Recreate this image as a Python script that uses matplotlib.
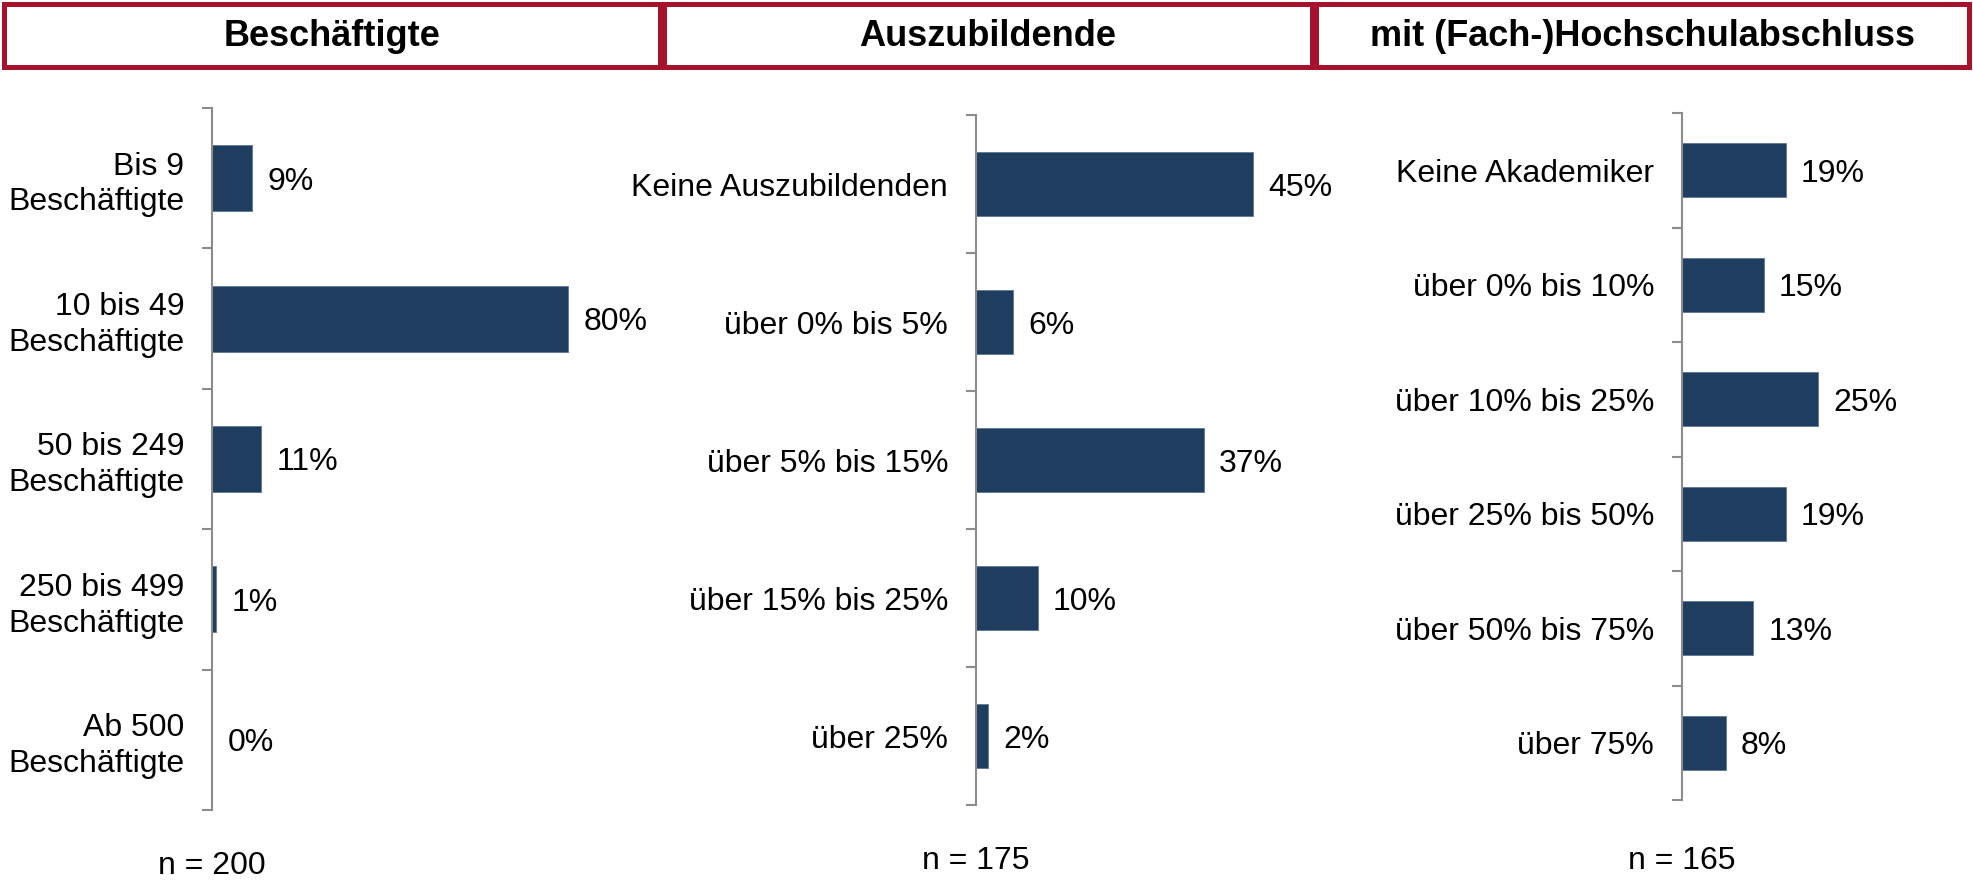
import matplotlib
matplotlib.use('Agg')
import matplotlib.pyplot as plt
from matplotlib.patches import Rectangle

plt.rcParams['font.family'] = ['Liberation Sans', 'DejaVu Sans']

# Daten
titel = ['Beschäftigte', 'Auszubildende', 'mit (Fach-)Hochschulabschluss']

kat_besch = ['Bis 9\nBeschäftigte', '10 bis 49\nBeschäftigte', '50 bis 249\nBeschäftigte',
             '250 bis 499\nBeschäftigte', 'Ab 500\nBeschäftigte']
wert_besch = [9, 80, 11, 1, 0]

kat_azubi = ['Keine Auszubildenden', 'über 0% bis 5%', 'über 5% bis 15%',
             'über 15% bis 25%', 'über 25%']
wert_azubi = [45, 6, 37, 10, 2]

kat_akad = ['Keine Akademiker', 'über 0% bis 10%', 'über 10% bis 25%',
            'über 25% bis 50%', 'über 50% bis 75%', 'über 75%']
wert_akad = [19, 15, 25, 19, 13, 8]

n_werte = ['n = 200', 'n = 175', 'n = 165']

W, H = 1973, 883
fig = plt.figure(figsize=(W / 100, H / 100), dpi=100)

BAR = '#1F3D5F'
ROT = '#A6122B'
GRAU = '#8C8C8C'


def px_axes(left, top, right, bottom):
    return fig.add_axes([left / W, 1 - bottom / H, (right - left) / W, (bottom - top) / H])


# Kopfzeilen-Kästen
kaesten = [(4, 660), (664, 1312), (1316, 1969)]
for (x0, x1), t in zip(kaesten, titel):
    fig.patches.append(Rectangle((x0 / W, 1 - 67 / H), (x1 - x0) / W, 63 / H,
                                 transform=fig.transFigure, fill=False,
                                 edgecolor=ROT, linewidth=3.6))
    fig.text((x0 + x1) / 2 / W, 1 - 36 / H, t, ha='center', va='center',
             fontsize=26, fontweight='bold')

# Panels: (kategorien, werte, links, oben, unten, px pro %, xmax, y von n)
panels = [
    (kat_besch, wert_besch, 212, 108, 810, 4.45, 100, 866),
    (kat_azubi, wert_azubi, 976, 115, 805, 6.15, 50, 861),
    (kat_akad, wert_akad, 1682, 113, 800, 5.45, 50, 861),
]

for (kats, werte, left, top, bottom, pxp, xmax, ny), n_txt in zip(panels, n_werte):
    ax = px_axes(left, top, left + pxp * xmax, bottom)
    pos = list(range(len(kats)))
    ax.barh(pos, werte, height=0.47, color=BAR, edgecolor='#5E7894', linewidth=0.6)
    for p, v in zip(pos, werte):
        ax.annotate(f'{v}%', (v, p), xytext=(11, 0), textcoords='offset points',
                    va='center_baseline', ha='left', fontsize=23)
    ax.set_xlim(0, xmax)
    ax.set_ylim(len(kats) - 0.5, -0.5)
    ax.set_yticks(pos)
    ax.set_yticklabels(kats, fontsize=23, ha='right', multialignment='right',
                       linespacing=1.25)
    ax.set_yticks([p - 0.5 for p in pos] + [len(kats) - 0.5], minor=True)
    ax.tick_params(axis='y', which='major', length=0, pad=20)
    ax.tick_params(axis='y', which='minor', length=7, width=1.5, color=GRAU)
    ax.set_xticks([])
    for s in ['top', 'right', 'bottom']:
        ax.spines[s].set_visible(False)
    ax.spines['left'].set_color(GRAU)
    ax.spines['left'].set_linewidth(1.5)
    ax.patch.set_alpha(0)
    fig.text(left / W, 1 - ny / H, n_txt, ha='center', va='center', fontsize=23)

fig.savefig('out.png', dpi=100)
